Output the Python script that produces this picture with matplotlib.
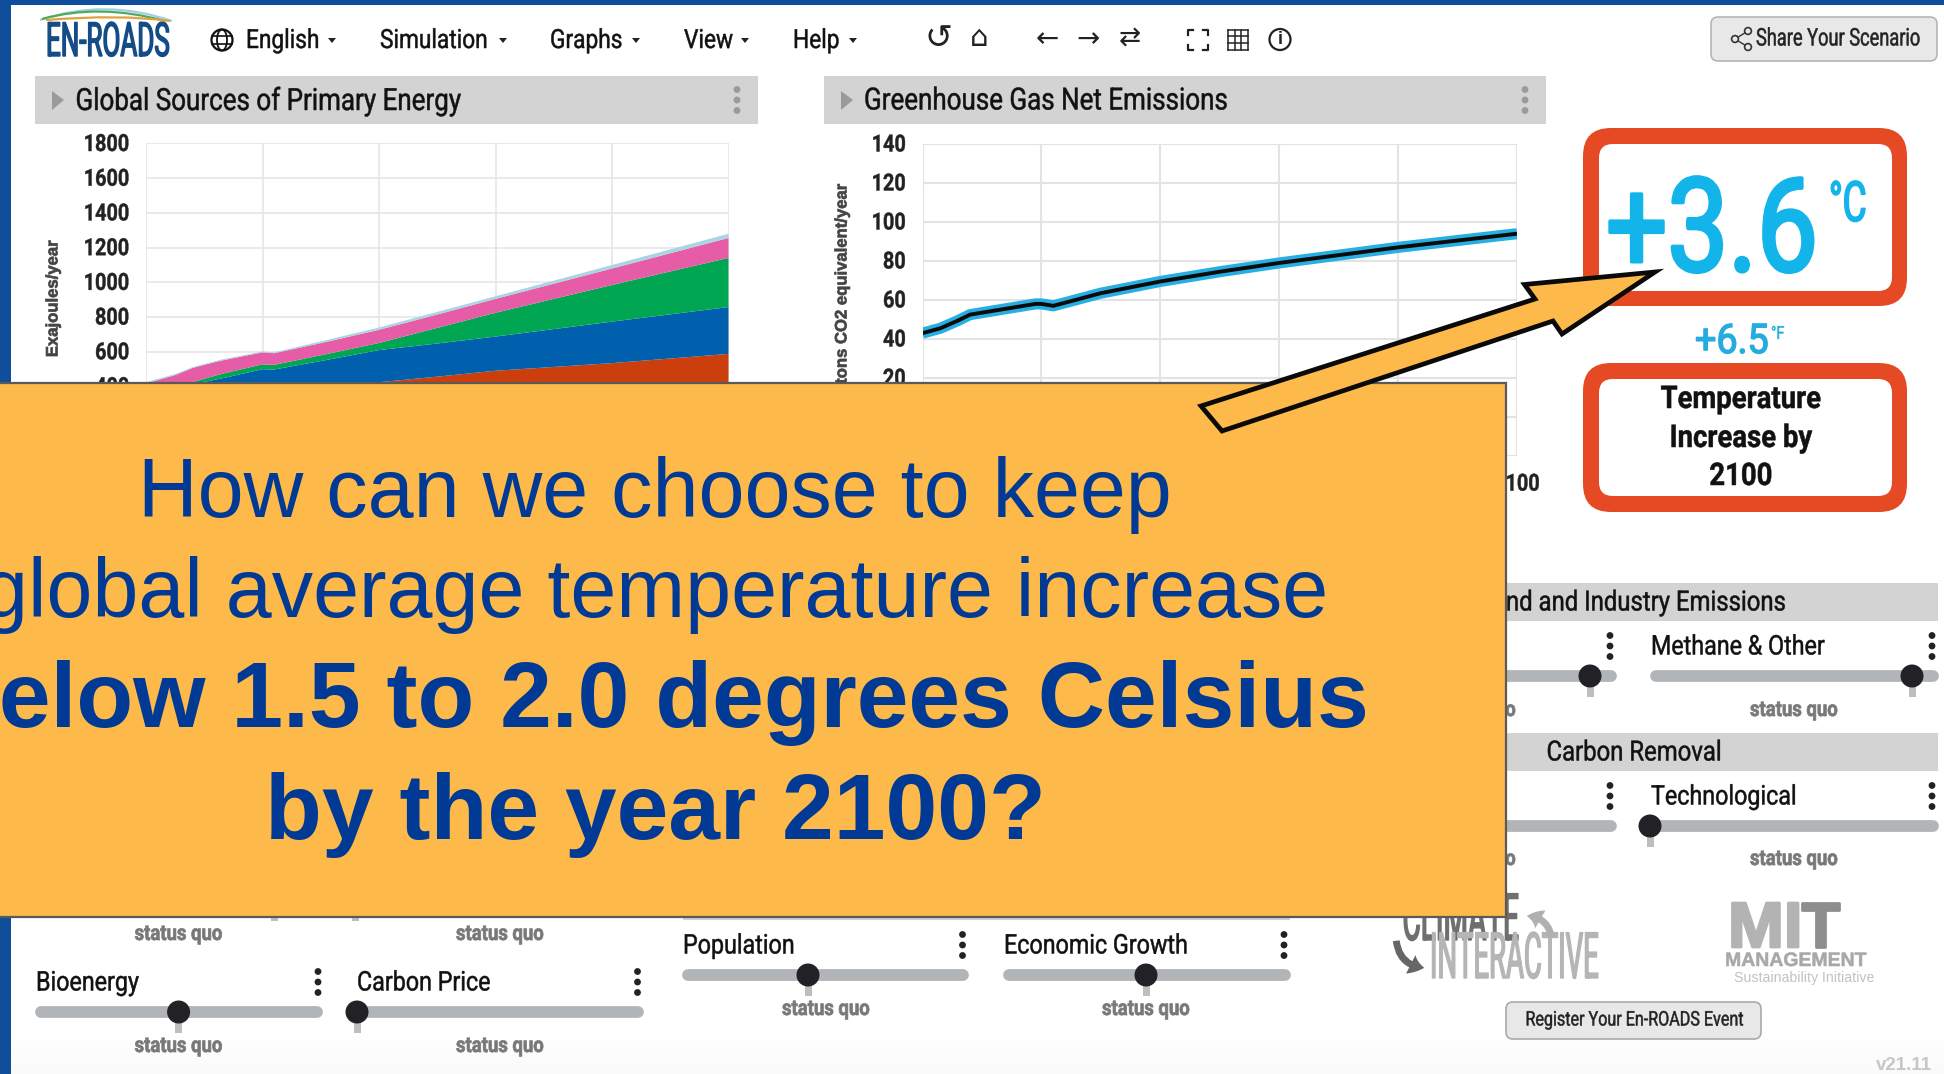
import matplotlib
matplotlib.use("Agg")
import matplotlib.pyplot as plt
import numpy as np
from matplotlib.patches import Rectangle, Circle, Ellipse, FancyBboxPatch, Polygon, PathPatch, FancyArrowPatch
from matplotlib.path import Path
from matplotlib.patheffects import AbstractPathEffect
from matplotlib.transforms import Affine2D

# ---------- data ----------
energy_years = [2000, 2005, 2008, 2010, 2013, 2020, 2022, 2030, 2040, 2050, 2060, 2080, 2100]
coal_like   = [150, 190, 215, 230, 255, 310, 315, 370, 425, 457, 491, 535, 588]
oil_like    = [150, 170, 180, 197, 192, 190, 183, 177, 185, 191, 197, 239, 270]
gas_like    = [30, 25, 30, 18, 26, 28, 27, 33, 41, 90, 137, 211, 283]
pink_source = [88, 81, 82, 80, 77, 69, 67, 70, 76, 77, 80, 95, 115]
pale_source = [7, 6, 5, 5, 6, 5, 5, 10, 13, 15, 15, 20, 24]
energy_colors = ["#CC3F0C", "#0060AE", "#00A651", "#E75CA6", "#A9D5E2"]
energy_ticks = [0, 200, 400, 600, 800, 1000, 1200, 1400, 1600, 1800]
energy_tick_labels = ["", "", "400", "600", "800", "1000", "1200", "1400", "1600", "1800"]

ghg_years  = [2000, 2003, 2006, 2008, 2011, 2015, 2019, 2020, 2022, 2030, 2040, 2050, 2060, 2070, 2080, 2090, 2100]
ghg_values = [43, 45.5, 49.5, 52.5, 54, 56, 58, 58, 57, 63.5, 69.5, 74.5, 79, 83, 87, 90.5, 94]
ghg_ticks = [-20, 0, 20, 40, 60, 80, 100, 120, 140]
ghg_tick_labels = ["", "", "20", "40", "60", "80", "100", "120", "140"]
year_ticks = [2000, 2020, 2040, 2060, 2080, 2100]
year_tick_labels = ["", "", "", "", "", "2100"]

nav_items = ["English", "Simulation", "Graphs", "View", "Help"]
nav_x = [246, 380, 550, 684, 793]
nav_caret = [332, 503, 636, 745, 853]

# ---------- setup ----------
W, H = 1944, 1074
fig = plt.figure(figsize=(W / 100, H / 100), dpi=100, facecolor="white")
NARROW = "Roboto"
ARIAL = "Liberation Sans"
SX = 0.86


class Squeeze(AbstractPathEffect):
    """Condense a text horizontally about a pixel position, optionally thickening it."""
    def __init__(self, sx, x0, stroke=0.0, dy=0.0):
        super().__init__()
        self.sx, self.x0, self.stroke, self.dy = sx, x0, stroke, dy

    def draw_path(self, renderer, gc, tpath, affine, rgbFace=None):
        a = affine + Affine2D().translate(-self.x0, 0).scale(self.sx, 1).translate(self.x0, self.dy)
        gc0 = renderer.new_gc()
        gc0.copy_properties(gc)
        if self.stroke > 0 and rgbFace is not None:
            gc0.set_foreground(rgbFace[:3])
            gc0.set_linewidth(self.stroke)
        renderer.draw_path(gc0, tpath, a, rgbFace)
        gc0.restore()


def make_layer(z):
    a = fig.add_axes([0, 0, 1, 1], zorder=z)
    a.set_xlim(0, W)
    a.set_ylim(H, 0)
    a.axis("off")
    a.patch.set_alpha(0)
    return a


bg = make_layer(0)
front = make_layer(3)


def T(a, x, y, s, size, color="#111111", ha="left", va="center", weight="normal", font=None, sx=None,
      stroke=None, **kw):
    t = a.text(x, y, s, fontsize=size, color=color, ha=ha, va=va, fontweight=weight,
               family=font or NARROW, **kw)
    if stroke is None:
        stroke = 0.35 if font is None else 0.0
    if sx is None:
        sx = SX if font is None else 1.0
    if sx != 1.0 or stroke > 0:
        t.set_path_effects([Squeeze(sx, x, stroke)])
    return t


def rbox(a, x0, y0, x1, y1, r, fc, ec="none", lw=0, z=2):
    a.add_patch(FancyBboxPatch((x0 + r, y0 + r), x1 - x0 - 2 * r, y1 - y0 - 2 * r,
                               boxstyle=f"round,pad={r},rounding_size={r}", fc=fc, ec=ec, lw=lw, zorder=z))


def vdots(a, x, y, color="#222222", gap=10.5, r=3.4):
    for d in (-gap, 0, gap):
        a.add_patch(Circle((x, y + d), r, fc=color, ec="none", zorder=4))


def slider(a, name, x0, x1, ytext, yslide, knob, xdots, xsq, ysq):
    if name:
        T(a, x0, ytext, name, 19.5)
    vdots(a, xdots, ytext - 1)
    a.plot([x0 + 5, x1 - 5], [yslide, yslide], color="#B2B5B8", lw=8.5, solid_capstyle="round", zorder=2)
    if knob is not None:
        a.add_patch(Rectangle((knob - 3.5, yslide), 7, 21, fc="#BEBEBE", ec="none", zorder=2.5))
        a.add_patch(Circle((knob, yslide), 11.5, fc="#222226", ec="none", zorder=3))
    T(a, xsq, ysq, "status quo", 15.5, color="#77787A", ha="center", weight="bold", stroke=0.5)


# ---------- page frame ----------
grad = np.linspace(0, 1, 60).reshape(-1, 1)
bg.imshow(grad, extent=(0, W, H, 1030), cmap="Greys", vmin=0, vmax=25, aspect="auto", zorder=0.5, origin="upper")
bg.set_xlim(0, W)
bg.set_ylim(H, 0)
bg.add_patch(Rectangle((0, 0), W, 5, fc="#0F4E9B", ec="none", zorder=6))
bg.add_patch(Rectangle((0, 0), 11, H, fc="#0F4E9B", ec="none", zorder=6))

# ---------- logo ----------
T(bg, 46, 43, "EN-ROADS", 34, color="#134C87", weight="normal", sx=0.55, stroke=1.0)
for (p0, p1, p2, col, lw) in [((40, 20), (105, -2), (172, 21), "#9CD3E4", 1.6),
                              ((42, 19), (100, 3), (165, 21), "#55A85A", 1.6),
                              ((46, 20), (120, 14), (170, 21), "#E0A23D", 1.6)]:
    bg.add_patch(PathPatch(Path([p0, p1, p2], [Path.MOVETO, Path.CURVE3, Path.CURVE3]),
                           fc="none", ec=col, lw=lw, zorder=3))

# ---------- nav ----------
gx, gy = 222, 40
bg.add_patch(Circle((gx, gy), 10.5, fc="none", ec="#111111", lw=1.6, zorder=3))
bg.add_patch(Ellipse((gx, gy), 10, 21, fc="none", ec="#111111", lw=1.3, zorder=3))
bg.plot([gx - 10, gx + 10], [gy - 4, gy - 4], color="#111111", lw=1.2, zorder=3)
bg.plot([gx - 10, gx + 10], [gy + 4, gy + 4], color="#111111", lw=1.2, zorder=3)
for name, x, cx in zip(nav_items, nav_x, nav_caret):
    T(bg, x, 41, name, 19)
    bg.add_patch(Polygon([(cx - 4, 38), (cx + 4, 38), (cx, 43)], fc="#222222", ec="none", zorder=3))

icon = dict(color="#222222", ha="center", font="DejaVu Sans")
T(bg, 939, 39, "\u21ba", 24, **icon)
T(bg, 979, 38, "\u2302", 21, **icon)
T(bg, 1047, 39, "\u2190", 20, **icon)
T(bg, 1088, 39, "\u2192", 20, **icon)
T(bg, 1130, 39, "\u21c4", 19, **icon)
for sx_, sy_ in [(-1, -1), (1, -1), (-1, 1), (1, 1)]:
    cx, cy = 1198 + sx_ * 10, 39.5 + sy_ * 10
    bg.plot([cx - sx_ * 5, cx, cx], [cy, cy, cy - sy_ * 5], color="#222222", lw=1.6, zorder=3)
for d in (-10, -3.3, 3.3, 10):
    bg.plot([1238 + d, 1238 + d], [29.5, 49.5], color="#222222", lw=1.1, zorder=3)
    bg.plot([1228, 1248], [39.5 + d, 39.5 + d], color="#222222", lw=1.1, zorder=3)
bg.add_patch(Circle((1280, 39.5), 10.5, fc="none", ec="#222222", lw=1.6, zorder=3))
T(bg, 1280, 39.5, "i", 13, color="#222222", ha="center", weight="bold", font=ARIAL, zorder=4)

rbox(bg, 1711, 17, 1937, 61, 7, "#E8E8E8", ec="#B5B5B5", lw=1.2)
T(bg, 1756, 39, "Share Your Scenario", 17.5, color="#222222", zorder=5, sx=0.75)
for (cx, cy) in [(1735, 39), (1748, 31), (1748, 47)]:
    bg.add_patch(Circle((cx, cy), 3.4, fc="#E8E8E8", ec="#333333", lw=1.2, zorder=5))
bg.plot([1748, 1735, 1748], [31, 39, 47], color="#333333", lw=1.0, zorder=4)

# ---------- chart headers ----------
for x0, x1, title, tx in [(35, 758, "Global Sources of Primary Energy", 75.5),
                          (824, 1546, "Greenhouse Gas Net Emissions", 864)]:
    bg.add_patch(Rectangle((x0, 76), x1 - x0, 48, fc="#D3D3D3", ec="none", zorder=1))
    T(bg, tx, 101, title, 22, zorder=3, sx=0.85)
    bg.add_patch(Polygon([(x0 + 17, 91), (x0 + 29, 100), (x0 + 17, 110)], fc="#9A9A9A", ec="none", zorder=3))
    vdots(bg, x1 - 21, 100, color="#9A9A9A")


def chart_axes(x0, x1, ytop, ybot):
    return fig.add_axes([x0 / W, 1 - ybot / H, (x1 - x0) / W, (ybot - ytop) / H], zorder=1)


def style(ax, yticks, ylabels, grid, lw, x0, x1):
    ax.set_xlim(2000, 2100)
    ax.set_xticks(year_ticks)
    ax.set_yticks(yticks)
    ax.set_yticklabels(ylabels)
    ax.set_xticklabels(year_tick_labels)
    ax.patch.set_alpha(0)
    for s in ax.spines.values():
        s.set_visible(False)
    ax.grid(True, color=grid, lw=lw, zorder=0)
    ax.set_axisbelow(True)
    ax.tick_params(length=0, pad=12, labelsize=17, labelcolor="#222222")
    for lab in ax.get_yticklabels():
        lab.set_family(NARROW)
        lab.set_fontweight("bold")
        lab.set_path_effects([Squeeze(0.84, x0 - 16.7, 0.3, 1.5)])
    for lab, yr in zip(ax.get_xticklabels(), year_ticks):
        lab.set_family(NARROW)
        lab.set_fontweight("bold")
        lab.set_path_effects([Squeeze(0.84, x0 + (x1 - x0) * (yr - 2000) / 100, 0.3)])


# ---------- left chart ----------
ax1 = chart_axes(146, 728.5, 143.5, 456)
ax1.set_ylim(0, 1800)
ax1.stackplot(energy_years, coal_like, oil_like, gas_like, pink_source, pale_source,
              colors=energy_colors, lw=0, zorder=2)
style(ax1, energy_ticks, energy_tick_labels, "#E4E4E8", 1.1, 146, 728.5)
T(bg, 53, 299, "Exajoules/year", 12, color="#444444", ha="center", weight="bold", font=ARIAL,
  rotation=90, zorder=3, stroke=0.5)

# ---------- right chart ----------
ax2 = chart_axes(922.5, 1517, 144, 456)
ax2.set_ylim(-20, 140)
ax2.plot(ghg_years, ghg_values, color="#27AEE3", lw=8, solid_capstyle="butt", zorder=3)
ax2.plot(ghg_years, ghg_values, color="#0B0B0B", lw=2.8, solid_capstyle="butt", zorder=4)
style(ax2, ghg_ticks, ghg_tick_labels, "#E3E3E3", 1.5, 922.5, 1517)
T(bg, 842, 185, "Gigatons CO2 equivalent/year", 12, color="#444444", ha="center", va="top",
  weight="bold", font=ARIAL, rotation=90, zorder=3, stroke=0.5)

# ---------- temperature boxes ----------
rbox(front, 1583, 128, 1907, 306, 28, "#E64A25", z=2)
rbox(front, 1599, 144, 1892, 291, 14, "white", z=2.1)
T(front, 1606, 271, "+3.6", 94, color="#12B4E9", va="baseline", sx=0.83, zorder=2.4, stroke=2.6)
T(front, 1829, 221, "\u00b0C", 40, color="#12B4E9", va="baseline", zorder=2.4, sx=0.66, stroke=1.2)
T(bg, 1695, 353, "+6.5", 29.5, color="#24ACE0", va="baseline", zorder=3, sx=0.92, stroke=1.0)
T(bg, 1771, 339, "\u00b0F", 13, color="#24ACE0", va="baseline", zorder=3, sx=0.8)
rbox(front, 1583, 363, 1907, 512, 28, "#E64A25", z=2)
rbox(front, 1599, 379, 1892, 496, 14, "white", z=2.1)
for y, s in zip([399, 438, 476], ["Temperature", "Increase by", "2100"]):
    T(front, 1741, y, s, 22.5, color="#111111", ha="center", weight="bold", zorder=2.4, sx=0.88)

# ---------- right hand controls ----------
for y0, y1 in [(583, 621), (733, 771)]:
    bg.add_patch(Rectangle((1150, y0), 1938 - 1150, y1 - y0, fc="#D3D3D3", ec="none", zorder=1))
T(bg, 1785, 603, "Land and Industry Emissions", 20, ha="right", zorder=3)
T(bg, 1634, 753, "Carbon Removal", 20, ha="center", zorder=3)
slider(bg, "Methane & Other", 1651, 1938, 647, 676, 1912, 1932, 1794, 710)
slider(bg, "", 1329, 1616, 647, 676, 1590, 1610, 1472, 710)
slider(bg, "Technological", 1651, 1938, 797, 826, 1650, 1932, 1794, 859)
slider(bg, "", 1329, 1616, 797, 826, None, 1610, 1472, 859)

# ---------- bottom controls ----------
T(bg, 178.6, 934, "status quo", 15.5, color="#77787A", ha="center", weight="bold", stroke=0.5)
T(bg, 500, 934, "status quo", 15.5, color="#77787A", ha="center", weight="bold", stroke=0.5)
bg.add_patch(Rectangle((270.5, 905), 7, 16, fc="#BEBEBE", ec="none", zorder=1))
bg.add_patch(Rectangle((351.5, 905), 7, 16, fc="#BEBEBE", ec="none", zorder=1))
bg.add_patch(Rectangle((683, 890), 607, 30, fc="#D3D3D3", ec="none", zorder=1))
slider(bg, "Bioenergy", 36, 322, 983, 1012, 178.6, 318, 178.6, 1046)
slider(bg, "Carbon Price", 357, 643, 983, 1012, 357, 637.5, 500, 1046)
slider(bg, "Population", 683, 968, 946, 975, 808, 962.5, 826, 1009)
slider(bg, "Economic Growth", 1004, 1290, 946, 975, 1146, 1284, 1146, 1009)

# ---------- sponsor logos ----------
T(bg, 1519, 940, "CLIMATE", 47, color="#6F6F6F", ha="right", va="baseline", sx=0.43, zorder=2, stroke=1.0)
T(bg, 1430, 978, "INTERACTIVE", 46, color="#B5B5B5", va="baseline", sx=0.43, zorder=2, stroke=1.0)
bg.add_patch(FancyArrowPatch((1552, 940), (1524, 916), connectionstyle="arc3,rad=0.45",
                             arrowstyle="simple,head_width=15,head_length=10,tail_width=5",
                             fc="#B0B0B0", ec="none", zorder=2))
bg.add_patch(FancyArrowPatch((1396, 938), (1427, 968), connectionstyle="arc3,rad=0.45",
                             arrowstyle="simple,head_width=15,head_length=10,tail_width=5",
                             fc="#666666", ec="none", zorder=2))
T(bg, 1728, 947, "MI", 46, color="#B3B3B3", va="baseline", weight="bold", font=ARIAL, sx=1.05, stroke=2.0)
T(bg, 1840, 947, "T", 46, color="#8E8E8E", ha="right", va="baseline", weight="bold", font=ARIAL, stroke=2.0)
T(bg, 1725, 966, "MANAGEMENT", 14, color="#A8A8A8", va="baseline", weight="bold", font=ARIAL, stroke=0.4)
T(bg, 1734, 982, "Sustainability Initiative", 10.2, color="#C2C2C2", va="baseline", font=ARIAL)

rbox(bg, 1506, 1002, 1761, 1039, 7, "#E8E8E8", ec="#A9A9A9", lw=1.2)
T(bg, 1634, 1020, "Register Your En-ROADS Event", 14.5, color="#222222", ha="center", zorder=4, sx=0.8)
T(bg, 1932, 1066, "v21.11", 13.5, color="#C6C6C6", ha="right", weight="bold", font=ARIAL)

# ---------- foreground panel ----------
PANEL = "#FDB94A"
BLUE = "#003A94"
front.add_patch(Rectangle((-6, 382.5), 1512, 534, fc=PANEL, ec="#5A5A5A", lw=1.6, zorder=1))
for y, s, size, w in [(516.7, "How can we choose to keep", 59.5, "normal"),
                      (616.7, "global average temperature increase", 59.5, "normal"),
                      (726.7, "below 1.5 to 2.0 degrees Celsius", 67, "bold"),
                      (839, "by the year 2100?", 67, "bold")]:
    T(front, 655, y, s, size, color=BLUE, ha="center", va="baseline", weight=w, font=ARIAL, zorder=2)

arrow_pts = [(1655, 272), (1562, 334), (1553, 321), (1222, 431), (1201, 406), (1535, 299), (1524.5, 284.5)]
front.add_patch(Polygon(arrow_pts, closed=True, fc=PANEL, ec="#0A0A0A", lw=3.4, joinstyle="miter", zorder=3))

fig.savefig("out.png", dpi=100, facecolor="white")
